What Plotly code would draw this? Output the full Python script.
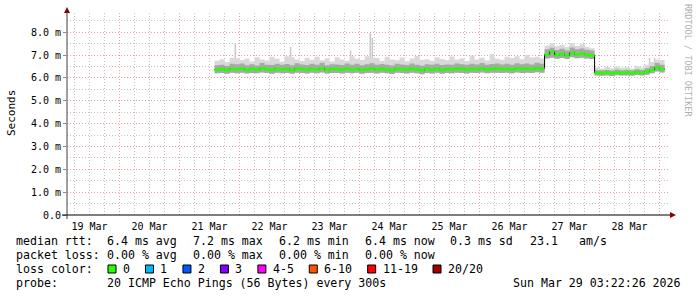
import pandas as pd
import plotly.graph_objects as go

# ---------------- data ----------------
BIN_START = "2026-03-21 14:00"
BIN_FREQ = "2h"

median_ms = [
    6.36, 6.38, 6.34, 6.40, 6.37, 6.41, 6.35, 6.39, 6.36, 6.42, 6.38, 6.35,
    6.40, 6.37, 6.39, 6.34, 6.41, 6.38, 6.36, 6.40, 6.37, 6.43, 6.35, 6.39,
    6.38, 6.36, 6.41, 6.37, 6.40, 6.35, 6.38, 6.42, 6.36, 6.39, 6.37, 6.34,
    6.40, 6.38, 6.36, 6.41, 6.37, 6.33, 6.39, 6.36, 6.40, 6.35, 6.38, 6.37,
    6.41, 6.39, 6.36, 6.40, 6.38, 6.42, 6.37, 6.39, 6.41, 6.38, 6.40, 6.37,
    6.42, 6.39, 6.41, 6.38, 6.43, 6.40,
    7.02, 7.15, 7.00, 7.05, 6.98, 7.10, 7.03, 7.06, 7.01, 6.99,
    6.22, 6.21, 6.23, 6.20, 6.24, 6.22, 6.23, 6.21, 6.25, 6.22, 6.27, 6.34, 6.45, 6.38, 6.40,
]
smoke_min_ms = [
    6.20, 6.21, 6.18, 6.22, 6.20, 6.23, 6.19, 6.21, 6.20, 6.24, 6.21, 6.18,
    6.22, 6.20, 6.21, 6.18, 6.23, 6.21, 6.19, 6.22, 6.20, 6.24, 6.19, 6.21,
    6.21, 6.19, 6.23, 6.20, 6.22, 6.18, 6.21, 6.23, 6.19, 6.22, 6.20, 6.17,
    6.22, 6.21, 6.19, 6.23, 6.20, 6.16, 6.21, 6.19, 6.22, 6.18, 6.21, 6.20,
    6.23, 6.21, 6.19, 6.22, 6.21, 6.24, 6.20, 6.22, 6.23, 6.21, 6.22, 6.20,
    6.24, 6.21, 6.23, 6.21, 6.25, 6.22,
    6.85, 6.88, 6.84, 6.87, 6.83, 6.90, 6.86, 6.88, 6.85, 6.83,
    6.10, 6.09, 6.11, 6.08, 6.12, 6.10, 6.11, 6.09, 6.13, 6.10, 6.14, 6.20, 6.28, 6.24, 6.26,
]
smoke_mid_ms = [
    6.55, 6.58, 6.52, 6.62, 6.60, 6.63, 6.55, 6.60, 6.54, 6.65, 6.58, 6.56,
    6.62, 6.57, 6.61, 6.55, 6.64, 6.59, 6.56, 6.62, 6.58, 6.66, 6.55, 6.60,
    6.59, 6.56, 6.63, 6.58, 6.62, 6.55, 6.60, 6.64, 6.57, 6.61, 6.58, 6.54,
    6.62, 6.59, 6.56, 6.63, 6.58, 6.53, 6.60, 6.57, 6.62, 6.56, 6.59, 6.58,
    6.63, 6.60, 6.57, 6.62, 6.59, 6.65, 6.58, 6.61, 6.63, 6.59, 6.62, 6.58,
    6.64, 6.60, 6.63, 6.59, 6.66, 6.62,
    7.25, 7.32, 7.22, 7.28, 7.20, 7.33, 7.25, 7.29, 7.23, 7.20,
    6.34, 6.33, 6.35, 6.32, 6.37, 6.34, 6.36, 6.33, 6.38, 6.35, 6.42, 6.52, 6.65, 6.58, 6.60,
]
smoke_max_ms = [
    6.75, 6.82, 6.70, 6.88, 6.86, 6.78, 6.85, 6.72, 6.90, 6.80, 6.76, 6.92,
    6.84, 6.71, 6.95, 6.90, 6.80, 6.74, 6.88, 6.79, 6.93, 6.77, 6.86, 6.72,
    6.90, 6.81, 6.75, 6.95, 6.84, 6.78, 6.95, 6.88, 6.87, 6.74, 6.92, 6.80,
    6.77, 6.89, 6.73, 6.85, 6.96, 6.79, 6.82, 6.75, 6.90, 6.83, 6.78, 6.94,
    6.81, 6.86, 6.74, 6.98, 6.80, 6.88, 6.76, 7.05, 6.84, 6.79, 6.92, 6.87,
    6.95, 6.82, 7.00, 6.89, 6.93, 6.85,
    7.42, 7.50, 7.38, 7.45, 7.35, 7.52, 7.40, 7.47, 7.36, 7.30,
    6.45, 6.40, 6.48, 6.42, 6.50, 6.44, 6.47, 6.41, 6.52, 6.46, 6.58, 6.70, 6.80, 6.78, 6.75,
]

spike_times = ["2026-03-21 22:17", "2026-03-22 20:24", "2026-03-23 20:24", "2026-03-24 04:16",
               "2026-03-24 05:05", "2026-03-27 17:36", "2026-03-28 20:00", "2026-03-28 22:00"]
spike_top_ms = [7.53, 7.35, 7.20, 7.96, 7.75, 7.55, 6.87, 6.87]
spike_base_ms = [6.60, 6.60, 6.60, 6.60, 6.60, 7.25, 6.50, 6.50]

y_tick_vals = [0, 1, 2, 3, 4, 5, 6, 7, 8]
y_tick_text = ["0.0", "1.0 m", "2.0 m", "3.0 m", "4.0 m", "5.0 m", "6.0 m", "7.0 m", "8.0 m"]
y_minor_vals = [0.5, 1.5, 2.5, 3.5, 4.5, 5.5, 6.5, 7.5, 8.5]

x_start = "2026-03-19 02:58"
x_end = "2026-03-29 03:22"

loss_labels = ["0", "1", "2", "3", "4-5", "6-10", "11-19", "20/20"]
loss_colors = ["#26ff00", "#00b8ff", "#0059ff", "#7e00ff", "#ff00ff", "#ff5500", "#ff0000", "#a00000"]

row_rtt = ["median rtt:", "6.4 ms avg", "7.2 ms max", "6.2 ms min", "6.4 ms now", "0.3 ms sd", "23.1", "am/s"]
row_loss = ["packet loss:", "0.00 % avg", "0.00 % max", "0.00 % min", "0.00 % now"]
row_probe = ["probe:", "20 ICMP Echo Pings (56 Bytes) every 300s", "Sun Mar 29 03:22:26 2026"]
y_title = "Seconds"
watermark = "RRDTOOL / TOBI OETIKER"

# ---------------- layout geometry ----------------
W, H = 697, 297
PL, PR, PT, PB = 67, 668, 13, 215
PW, PH = PR - PL, PB - PT
MONO = "DejaVu Sans Mono"


def ax(x):
    return (x - PL) / PW


def ay(y):
    return (PB - y) / PH


times = pd.date_range(BIN_START, periods=len(median_ms), freq=BIN_FREQ)
band = 0.06
green_lo = [m - band for m in median_ms]
green_hi = [m + band for m in median_ms]

fig = go.Figure()

# spikes
sx, sy = [], []
for t, b, v in zip(spike_times, spike_base_ms, spike_top_ms):
    sx += [t, t, None]
    sy += [b, v, None]
fig.add_trace(go.Scatter(x=sx, y=sy, mode="lines", line=dict(color="#c8c8c8", width=1.5),
                         hoverinfo="skip", showlegend=False))

# light smoke
fig.add_trace(go.Scatter(x=times, y=smoke_min_ms, mode="lines", line=dict(width=0, shape="hv"),
                         hoverinfo="skip", showlegend=False))
fig.add_trace(go.Scatter(x=times, y=smoke_max_ms, mode="lines", line=dict(width=0, shape="hv"),
                         fill="tonexty", fillcolor="#d9d9d9", hoverinfo="skip", showlegend=False))
# darker smoke
fig.add_trace(go.Scatter(x=times, y=smoke_min_ms, mode="lines", line=dict(width=0, shape="hv"),
                         hoverinfo="skip", showlegend=False))
fig.add_trace(go.Scatter(x=times, y=smoke_mid_ms, mode="lines", line=dict(width=0, shape="hv"),
                         fill="tonexty", fillcolor="#a8a8a8", hoverinfo="skip", showlegend=False))
# black median line
fig.add_trace(go.Scatter(x=times, y=median_ms, mode="lines", line=dict(color="#000000", width=1, shape="hv"),
                         hoverinfo="skip", showlegend=False))
# green loss-colour band
fig.add_trace(go.Scatter(x=times, y=green_lo, mode="lines", line=dict(width=0, shape="hv"),
                         hoverinfo="skip", showlegend=False))
fig.add_trace(go.Scatter(x=times, y=green_hi, mode="lines", line=dict(width=0, shape="hv"),
                         fill="tonexty", fillcolor=loss_colors[0], hoverinfo="skip", showlegend=False))

MGRID = "#eaa0a0"
GRID = "#c4c4c4"
DASH = "1px,2px"

fig.update_xaxes(
    type="date", range=[x_start, x_end], tick0="2026-03-19", dtick=86400000,
    ticklabelmode="period", tickformat="%d %b", ticks="", showline=False, zeroline=False,
    ticklabelstandoff=4,
    showgrid=True, gridcolor=MGRID, griddash=DASH, gridwidth=1,
    tickfont=dict(family=MONO, size=10, color="#000000"),
    minor=dict(tick0="2026-03-19", dtick=21600000, showgrid=True, gridcolor=GRID, griddash=DASH, gridwidth=1),
)
fig.update_yaxes(
    range=[0, 8.84], tickmode="array", tickvals=y_tick_vals, ticktext=y_tick_text,
    ticks="outside", ticklen=3, tickcolor="#888888", showline=False, zeroline=False,
    showgrid=True, gridcolor=MGRID, griddash=DASH, gridwidth=1,
    tickfont=dict(family=MONO, size=10, color="#000000"),
    minor=dict(tickmode="array", tickvals=y_minor_vals, showgrid=True, gridcolor=GRID, griddash=DASH, gridwidth=1),
)

shapes = []
# axes lines
shapes.append(dict(type="line", xref="paper", yref="paper", x0=ax(PL), x1=ax(PL), y0=ay(219), y1=ay(11),
                   line=dict(color="#404040", width=1)))
shapes.append(dict(type="line", xref="paper", yref="paper", x0=ax(62), x1=ax(670), y0=ay(PB), y1=ay(PB),
                   line=dict(color="#000000", width=1)))
# arrows
shapes.append(dict(type="path", xref="paper", yref="paper",
                   path=f"M {ax(PL-3)},{ay(13)} L {ax(PL+3)},{ay(13)} L {ax(PL)},{ay(7)} Z",
                   fillcolor="#8b0000", line=dict(width=0)))
shapes.append(dict(type="path", xref="paper", yref="paper",
                   path=f"M {ax(670)},{ay(PB-3)} L {ax(670)},{ay(PB+3)} L {ax(676)},{ay(PB)} Z",
                   fillcolor="#8b0000", line=dict(width=0)))

annotations = []


def text(s, x, y, size=11.6, color="#000000", angle=0, xanchor="left"):
    annotations.append(dict(text=s, x=ax(x), y=ay(y), xref="paper", yref="paper", showarrow=False,
                            xanchor=xanchor, yanchor="middle", textangle=angle, borderpad=0, borderwidth=0,
                            font=dict(family=MONO, size=size, color=color)))


rtt_x = [16, 107, 193, 279, 365, 450, 530, 579]
for s, x in zip(row_rtt, rtt_x):
    text(s, x, 241)
loss_x = [16, 107, 193, 279, 365]
for s, x in zip(row_loss, loss_x):
    text(s, x, 255)
text("loss color:", 16, 269)
sq_x = 108
for lab, col in zip(loss_labels, loss_colors):
    shapes.append(dict(type="rect", xref="paper", yref="paper", x0=ax(sq_x), x1=ax(sq_x + 8),
                       y0=ay(273), y1=ay(265), fillcolor=col, line=dict(color="#000000", width=1)))
    tx = sq_x + 15
    text(lab, tx, 269)
    sq_x = tx + len(lab) * 6.97 + 15.5
probe_x = [16, 107, 513]
for s, x in zip(row_probe, probe_x):
    text(s, x, 283)

text(y_title, 11, 113, size=11, angle=-90, xanchor="center")
text(watermark, 688, 60, size=8.5, color="#b0b0b0", angle=90, xanchor="center")

fig.update_layout(
    width=W, height=H, autosize=False,
    margin=dict(l=PL, r=W - PR, t=PT, b=H - PB, pad=0),
    paper_bgcolor="#ffffff", plot_bgcolor="#ffffff",
    showlegend=False, shapes=shapes, annotations=annotations,
)

fig.write_html("out.html")
